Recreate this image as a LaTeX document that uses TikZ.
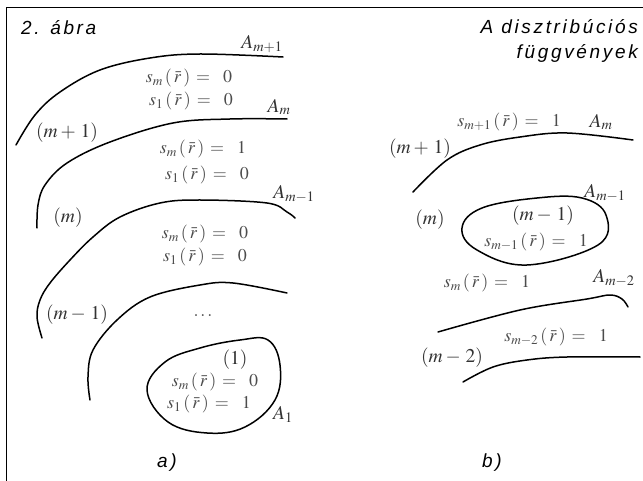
\documentclass[tikz,border=0pt]{standalone}
\usepackage{mathptmx}
\usepackage{fontspec}
\setmainfont{Liberation Serif}
\newfontfamily\titlefont[LetterSpace=14]{Liberation Sans}
\newcommand{\sr}[2]{s_{#1}\,(\,\bar r\,)\,=\ \ #2}
\tikzset{
  lbl/.style={font=\fontsize{19.5}{19.5}\selectfont, text=black!80, inner sep=0pt},
  slbl/.style={font=\fontsize{18}{18}\selectfont, text=black!70, inner sep=0pt},
  ttl/.style={font=\titlefont\itshape\fontsize{19}{25}\selectfont, inner sep=0pt},
  curve/.style={line width=1.5pt, line cap=round, line join=round},
}
\begin{document}
\begin{tikzpicture}[x=1pt,y=-1pt]
\useasboundingbox (0,0) rectangle (643,481);
\draw[line width=1.3pt] (6.5,481) -- (6.5,7.5) -- (643,7.5);
% titles
\node[ttl, anchor=west] (t1) at (21,28) {2. ábra};
\node[ttl, anchor=east, align=right] (t2) at (638,41) {A disztribúciós\\függvények};
% ---- panel a
\draw[curve] plot[smooth, tension=0.6] coordinates {(16,145) (35,115) (60,92) (100,70) (150,58) (200,54) (283,57)};
\node[lbl] (am1) at (262,44) {$A_{m+1}$};
\node[slbl] (a1) at (189,78) {$\sr{m}{0}$};
\node[slbl] (a2) at (191,101) {$\sr{1}{0}$};
\node[lbl] (am) at (279,107) {$A_m$};
\node[lbl] (a3) at (67,133) {$(m+\,1)$};
\draw[curve] plot[smooth, tension=0.6] coordinates {(37,228) (38,205) (45,185) (67,163) (110,142) (173,123) (230,119) (287,119)};
\node[slbl] (a4) at (203,149) {$\sr{m}{1}$};
\node[slbl] (a5) at (207,175) {$\sr{1}{0}$};
\node[lbl] (amm1) at (294,194) {$A_{m-1}$};
\node[lbl] (a6) at (68,218) {$(m)$};
\draw[curve] plot[smooth, tension=0.6] coordinates {(42,338) (37,317) (40,300) (50,283) (70,260) (93,237) (120,217) (160,203) (200,200) (267,203) (287,212) (295,218)};
\node[slbl] (a7) at (205,234) {$\sr{m}{0}$};
\node[slbl] (a8) at (205,257) {$\sr{1}{0}$};
\draw[curve] plot[smooth, tension=0.6] coordinates {(90,400) (88,377) (93,350) (117,320) (150,297) (200,285) (233,283) (287,293)};
\node[lbl] (a9) at (77,315) {$(m-\,1)$};
\node[slbl] (a10) at (203,316) {$\ldots$};
\draw[curve] plot[smooth cycle, tension=0.65] coordinates {(147,390) (165,362) (200,348) (240,340) (268,340) (280,365) (275,400) (245,427) (207,433) (168,422)};
\node[lbl] (a11) at (235,360) {$(1)$};
\node[slbl] (a12) at (215,382) {$\sr{m}{0}$};
\node[slbl] (a13) at (209,404) {$\sr{1}{1}$};
\node[lbl] (a14) at (283,414) {$A_1$};
\node[ttl] (la) at (167,463) {a)};
% ---- panel b
\node[slbl] (b1) at (509,122) {$\sr{m+1}{1}$};
\node[lbl] (b2) at (601,122) {$A_m$};
\node[lbl] (b3) at (420,149) {$(m+\,1)$};
\draw[curve] plot[smooth, tension=0.6] coordinates {(413,192) (447,160) (480,145) (520,137) (567,133) (633,140)};
\node[lbl] (b4) at (430,220) {$(m)$};
\draw[curve] plot[smooth cycle, tension=0.65] coordinates {(462,228) (482,208) (537,198) (582,198) (606,215) (598,245) (527,265) (477,250)};
\node[lbl] (b5) at (605,193) {$A_{m-1}$};
\node[lbl] (b6) at (543,216) {$(m-\,1)$};
\node[slbl] (b7) at (536,242) {$\sr{m-1}{1}$};
\node[slbl] (b8) at (487,283) {$\sr{m}{1}$};
\node[lbl] (b9) at (614,278) {$A_{m-2}$};
\draw[curve] plot[smooth, tension=0.6] coordinates {(438,332) (520,310) (587,299) (610,295) (622,299) (628,307)};
\node[slbl] (b10) at (556,337) {$\sr{m-2}{1}$};
\node[lbl] (b11) at (452,358) {$(m-\,2)$};
\draw[curve] plot[smooth, tension=0.6] coordinates {(463,382) (493,367) (527,360) (567,357) (640,357)};
\node[ttl] (lb) at (492,463) {b)};
\end{tikzpicture}
\end{document}
